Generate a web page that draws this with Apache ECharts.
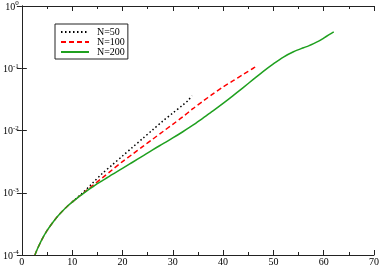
<!DOCTYPE html>
<html>
<head>
<meta charset="utf-8">
<script src="https://cdn.jsdelivr.net/npm/echarts@6/dist/echarts.min.js"></script>
<style>html,body{margin:0;padding:0;background:#fff;}#c{width:382px;height:267px;}</style>
</head>
<body>
<div id="c"></div>
<script>
// x values and log10(y) values
const n50X   = [10, 12, 14, 16, 18, 20, 22, 24, 26, 28, 30, 32, 33, 33.8];
const n50Log = [-3.15, -3.01, -2.85, -2.69, -2.55, -2.41, -2.27, -2.13, -1.99, -1.85, -1.72, -1.59, -1.52, -1.44];

const n100X   = [2.6, 3, 4, 5, 6, 7, 8, 9, 10, 11, 12, 13, 14, 16, 18, 20, 22, 24, 26, 28, 30, 32, 34, 36, 38, 40, 42, 44, 46, 46.7];
const n100Log = [-4.00, -3.92, -3.75, -3.61, -3.495, -3.39, -3.30, -3.22, -3.15, -3.085, -3.02, -2.955, -2.89, -2.76, -2.63, -2.50, -2.38, -2.26, -2.14, -2.02, -1.90, -1.78, -1.65, -1.53, -1.41, -1.30, -1.20, -1.10, -1.00, -0.97];

const n200X   = [2.6, 3, 4, 5, 6, 7, 8, 9, 10, 11, 12, 13, 14, 15, 16, 17, 18, 20, 22, 24, 26, 28, 30, 32, 34, 36, 38, 40, 42, 44, 46, 48, 50, 52, 54, 56, 57, 58, 59, 60, 61, 62];
const n200Log = [-4.00, -3.92, -3.75, -3.61, -3.495, -3.39, -3.30, -3.22, -3.15, -3.085, -3.025, -2.965, -2.91, -2.855, -2.805, -2.755, -2.705, -2.61, -2.51, -2.41, -2.31, -2.215, -2.12, -2.02, -1.915, -1.80, -1.685, -1.565, -1.44, -1.31, -1.18, -1.05, -0.93, -0.82, -0.735, -0.67, -0.64, -0.605, -0.565, -0.515, -0.465, -0.415];

const seriesNames = ['N=50', 'N=100', 'N=200'];
const xTicks = [0, 10, 20, 30, 40, 50, 60, 70];
const yTicks = [1e-4, 1e-3, 1e-2, 1e-1, 1];

function pts(xs, ls) { return xs.map((x, i) => [x, Math.pow(10, ls[i])]); }

const FONT = '"Liberation Serif", "DejaVu Serif", serif';
const chart = echarts.init(document.getElementById('c'), null, {renderer: 'canvas'});
const axisLine = {show: true, lineStyle: {color: '#222', width: 1}};

chart.setOption({
  animation: false,
  backgroundColor: '#fff',
  grid: {left: 20, right: 6, top: 6, bottom: 11, containLabel: false},
  legend: {
    orient: 'vertical', left: 55, top: 24,
    data: seriesNames,
    itemWidth: 28, itemHeight: 10, itemGap: 0,
    padding: [3, 3, 2, 5],
    borderColor: '#222', borderWidth: 1,
    itemStyle: {opacity: 0},
    textStyle: {fontFamily: FONT, fontSize: 10, color: '#000', lineHeight: 10, padding: [0, 0, 0, 3]}
  },
  xAxis: [{
    type: 'value', min: xTicks[0], max: xTicks[xTicks.length - 1], interval: 10,
    axisLine: axisLine,
    axisTick: {show: true, inside: true, length: 5, lineStyle: {color: '#222'}},
    minorTick: {show: true, splitNumber: 2, length: 3, lineStyle: {color: '#222'}},
    splitLine: {show: false},
    axisLabel: {fontFamily: FONT, fontSize: 10, color: '#000', margin: 2}
  }, {
    type: 'value', position: 'top', min: xTicks[0], max: xTicks[xTicks.length - 1], interval: 10,
    axisLine: axisLine,
    axisTick: {show: true, inside: true, length: 5, lineStyle: {color: '#222'}},
    minorTick: {show: true, splitNumber: 2, length: 3, lineStyle: {color: '#222'}},
    splitLine: {show: false}, axisLabel: {show: false}
  }],
  yAxis: [{
    type: 'log', logBase: 10, min: yTicks[0], max: yTicks[yTicks.length - 1],
    axisLine: axisLine,
    axisTick: {show: true, inside: true, length: 5, lineStyle: {color: '#222'}},
    splitLine: {show: false},
    axisLabel: {
      margin: 3,
      formatter: function (v) {
        const e = Math.round(Math.log10(v));
        return '{b|10}{e|' + e + '}';
      },
      rich: {
        b: {fontFamily: FONT, fontSize: 10, color: '#000', lineHeight: 12, verticalAlign: 'bottom'},
        e: {fontFamily: FONT, fontSize: 7, color: '#000', lineHeight: 12, verticalAlign: 'top'}
      }
    }
  }, {
    type: 'log', logBase: 10, position: 'right', min: yTicks[0], max: yTicks[yTicks.length - 1],
    axisLine: axisLine,
    axisTick: {show: true, inside: true, length: 5, lineStyle: {color: '#222'}},
    splitLine: {show: false}, axisLabel: {show: false}
  }],
  series: [{
    name: seriesNames[0], type: 'line', showSymbol: false, symbol: 'none', smooth: 0.3,
    data: pts(n50X, n50Log),
    lineStyle: {color: '#000', width: 1.5, type: [1.5, 2.5]},
    itemStyle: {color: '#000'}
  }, {
    name: seriesNames[1], type: 'line', showSymbol: false, symbol: 'none', smooth: 0.3,
    data: pts(n100X, n100Log),
    lineStyle: {color: '#ff0000', width: 1.5, type: [5, 3]},
    itemStyle: {color: '#ff0000'}
  }, {
    name: seriesNames[2], type: 'line', showSymbol: false, symbol: 'none', smooth: 0.3,
    data: pts(n200X, n200Log),
    lineStyle: {color: '#1fa01f', width: 1.5},
    itemStyle: {color: '#1fa01f'}
  }]
});
</script>
</body>
</html>
